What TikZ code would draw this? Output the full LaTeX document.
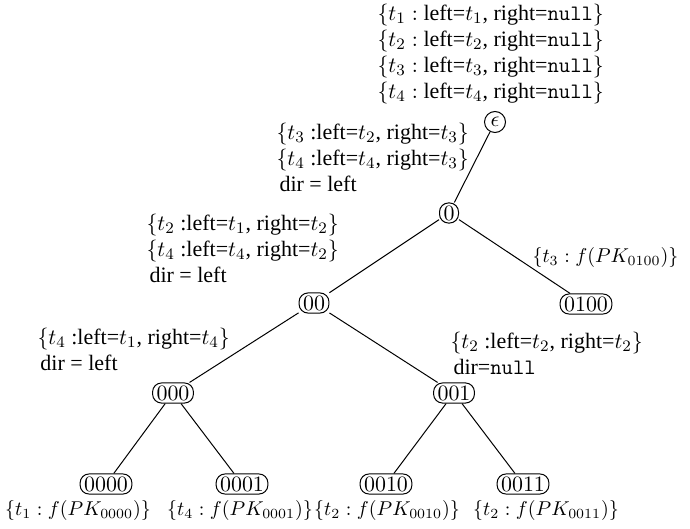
\documentclass[tikz,border=0pt]{standalone}
\usepackage[no-math]{fontspec}
\setmainfont{Liberation Serif}
\begin{document}
\begin{tikzpicture}[x=0.5pt,y=-0.5pt,
  font=\fontsize{11}{13}\selectfont,
  line width=0.5pt,
  tn/.style={draw, rounded corners=4.5pt, inner xsep=2pt, inner ysep=1.5pt,
             minimum height=10pt, minimum width=9.5pt},
  rootn/.style={draw, circle, inner sep=0.5pt, minimum size=10.5pt},
  lbl/.style={align=left, anchor=west, inner sep=0pt},
  leaflbl/.style={inner sep=0pt, font=\fontsize{10}{12}\selectfont},
  conn/.style={draw, line width=0.5pt}]
\useasboundingbox (0,0) rectangle (690,529);

% tree nodes
\node[rootn] (eps) at (495,122) {$\epsilon$};
\node[tn] (n0) at (449,213) {$0$};
\node[tn] (n00) at (314,303) {$00$};
\node[tn] (n0100) at (586,304) {$0100$};
\node[tn] (n000) at (173,393) {$000$};
\node[tn] (n001) at (454,393) {$001$};
\node[tn] (n0000) at (106,484) {$0000$};
\node[tn] (n0001) at (242,484) {$0001$};
\node[tn] (n0010) at (386,484) {$0010$};
\node[tn] (n0011) at (523,484) {$0011$};

% connectors
\path[conn] (eps) -- (n0);
\path[conn] (n0) -- (n00);
\path[conn] (n0) -- (n0100);
\path[conn] (n00) -- (n000);
\path[conn] (n00) -- (n001);
\path[conn] (n000) -- (n0000);
\path[conn] (n000) -- (n0001);
\path[conn] (n001) -- (n0010);
\path[conn] (n001) -- (n0011);

% labels
\node[lbl] (lA) at (377,54) {$\{t_1:$ left=$t_1$, right=\texttt{null}$\}$\\
$\{t_2:$ left=$t_2$, right=\texttt{null}$\}$\\
$\{t_3:$ left=$t_3$, right=\texttt{null}$\}$\\
$\{t_4:$ left=$t_4$, right=\texttt{null}$\}$};

\node[lbl] (lB) at (276,157) {$\{t_3$ :left=$t_2$, right=$t_3\}$\\
$\{t_4$ :left=$t_4$, right=$t_3\}$\\
\hspace{1.5pt}dir = left};

\node[lbl] (lC) at (146,248) {$\{t_2$ :left=$t_1$, right=$t_2\}$\\
$\{t_4$ :left=$t_4$, right=$t_2\}$\\
\hspace{1.5pt}dir = left};

\node[lbl] (lD) at (37,349) {$\{t_4$ :left=$t_1$, right=$t_4\}$\\
\hspace{1.5pt}dir = left};

\node[lbl, font=\fontsize{10.3}{12}\selectfont] (lE) at (532,258) {$\{t_3: f(PK_{0100})\}$};

\node[lbl] (lF) at (450,353) {$\{t_2$ :left=$t_2$, right=$t_2\}$\\
\hspace{1.5pt}dir=\texttt{null}};

\node[leaflbl] (l0000) at (78,510) {$\{t_1: f(PK_{0000})\}$};
\node[leaflbl] (l0001) at (240,510) {$\{t_4: f(PK_{0001})\}$};
\node[leaflbl] (l0010) at (387,510) {$\{t_2: f(PK_{0010})\}$};
\node[leaflbl] (l0011) at (546,510) {$\{t_2: f(PK_{0011})\}$};
\end{tikzpicture}
\end{document}
